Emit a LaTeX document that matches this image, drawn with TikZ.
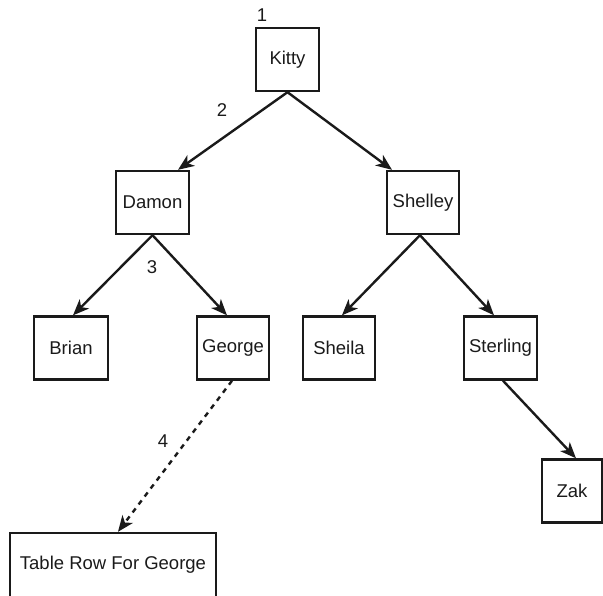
\documentclass[tikz,border=0pt]{standalone}
\usepackage{fontspec}
\setmainfont{Liberation Sans}
\usetikzlibrary{arrows.meta}
\definecolor{ink}{HTML}{1A1A1A}
\begin{document}
\begin{tikzpicture}[x=1pt,y=-1pt,
  box/.style={draw=ink,line width=2.4pt,text=ink,font=\fontsize{18.5}{22}\selectfont,inner sep=0pt,minimum height=63pt},
  lbl/.style={text=ink,font=\fontsize{18.5}{22}\selectfont,inner sep=0pt},
  conn/.style={draw=ink,line width=2.4pt,-{Stealth[length=16pt,width=13pt,inset=4.5pt]}},
  dconn/.style={conn,dash pattern=on 5pt off 5pt}]
\useasboundingbox (0,0) rectangle (603,595);
\node[box,minimum width=63pt] (kitty) at (287.5,59.5) {Kitty};
\node[box,minimum width=73pt] (damon) at (152.5,202.5) {Damon};
\node[box,minimum width=72pt] (shelley) at (423,202.5) {Shelley};
\node[box,minimum width=74pt] (brian) at (71,348) {Brian};
\node[box,minimum width=72pt] (george) at (233,348) {George};
\node[box,minimum width=72pt] (sheila) at (339,348) {Sheila};
\node[box,minimum width=73pt] (sterling) at (500.5,348) {Sterling};
\node[box,minimum width=60pt] (zak) at (572,491) {Zak};
\node[box,minimum width=206pt,minimum height=64pt] (row) at (113,565) {Table Row For George};
\node[lbl] (l1) at (262,15) {1};
\node[lbl] (l2) at (222,110) {2};
\node[lbl] (l3) at (152,267) {3};
\node[lbl] (l4) at (163,441) {4};
\draw[conn] (kitty.south) -- ([xshift=25.5pt]damon.north);
\draw[conn] (kitty.south) -- ([xshift=-31pt]shelley.north);
\draw[conn] (damon.south) -- ([xshift=2pt]brian.north);
\draw[conn] (damon.south) -- ([xshift=-6pt]george.north);
\draw[conn] ([xshift=-3pt]shelley.south) -- ([xshift=3pt]sheila.north);
\draw[conn] ([xshift=-3pt]shelley.south) -- ([xshift=-6.5pt]sterling.north);
\draw[conn] ([xshift=2.5pt]sterling.south) -- ([xshift=4pt]zak.north);
\draw[dconn] ([xshift=-1pt]george.south) -- ([xshift=5pt]row.north);
\end{tikzpicture}
\end{document}
